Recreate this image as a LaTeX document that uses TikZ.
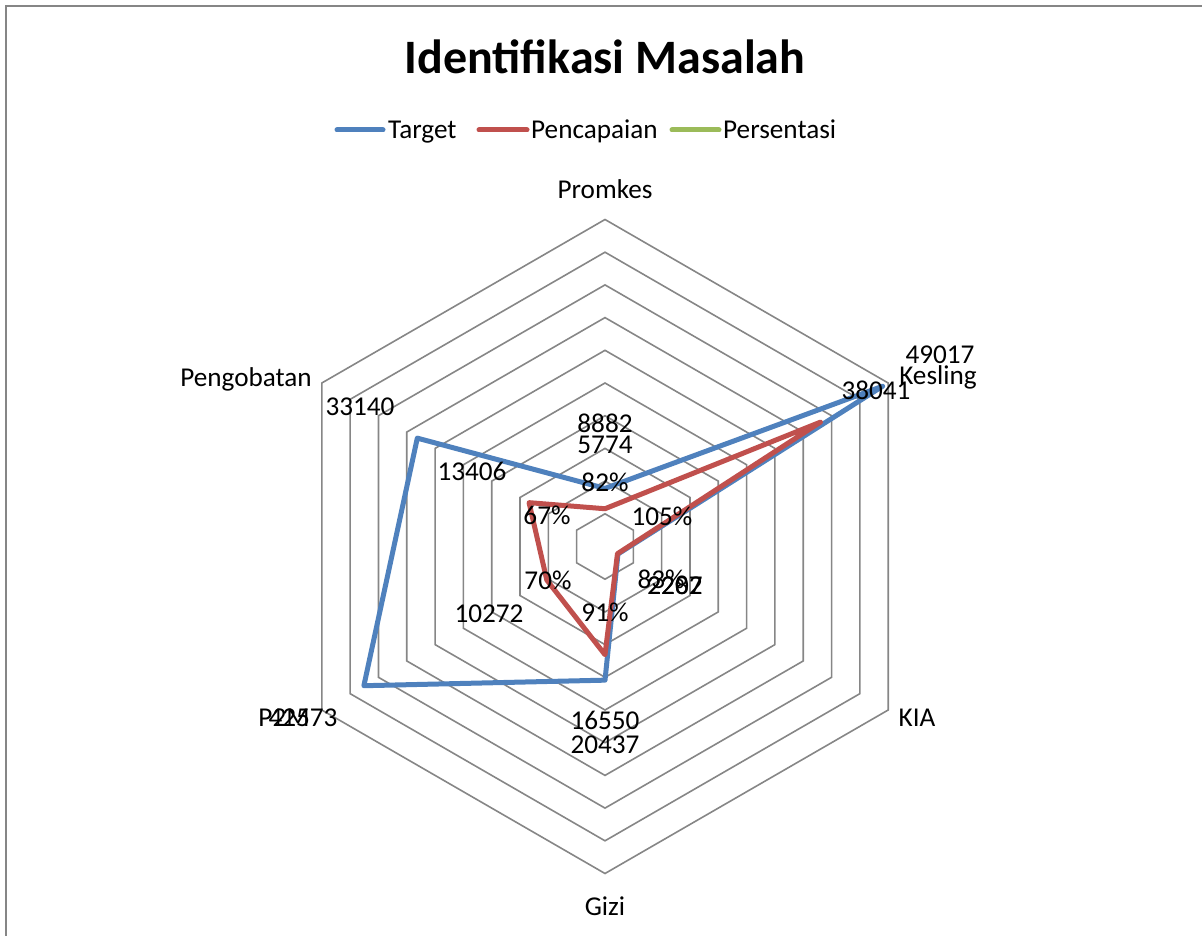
\documentclass[tikz,border=0pt]{standalone}
\usepackage{fontspec}
\setmainfont{Carlito}
\definecolor{tblue}{HTML}{4F81BD}
\definecolor{pred}{HTML}{C0504D}
\definecolor{pgreen}{HTML}{9BBB59}
\definecolor{gridgray}{HTML}{868686}
\begin{document}
\begin{tikzpicture}[x=1pt,y=-1pt,
  lbl/.style={font=\fontsize{27.2}{32}\selectfont, inner sep=0pt, text height=17.2pt, text depth=0pt, text=black},
  ttl/.style={font=\bfseries\fontsize{48}{58}\selectfont, inner sep=0pt, text height=31pt, text depth=0pt},
  ring/.style={draw=gridgray, line width=1.6pt, line join=miter},
  frameline/.style={draw=gridgray, line width=2.2pt},
  serie/.style={line width=5pt, line join=round, line cap=round},
  legline/.style={line width=5pt, line cap=round}]
\useasboundingbox (0,0) rectangle (1202,936);
\draw[frameline] (6,940) -- (6,6) -- (1206,6);
% title
\node[ttl] (title) at (605,58) {Identifikasi Masalah};
% legend
\coordinate (la1) at (337,130); \coordinate (la2) at (383,130);
\coordinate (lb1) at (479,130); \coordinate (lb2) at (527,130);
\coordinate (lc1) at (672,130); \coordinate (lc2) at (719,130);
\draw[legline, tblue] (la1) -- (la2);
\draw[legline, pred] (lb1) -- (lb2);
\draw[legline, pgreen] (lc1) -- (lc2);
\node[lbl, anchor=west] (legT) at (388,130) {Target};
\node[lbl, anchor=west] (legP) at (531,130) {Pencapaian};
\node[lbl, anchor=west] (legS) at (723,130) {Persentasi};
% radar
\begin{scope}[shift={(605,546.5)}]
  \foreach \k [evaluate=\k as \r using \k*32.7] in {1,...,10}
    \draw[ring] (-90:\r) -- (-30:\r) -- (30:\r) -- (90:\r) -- (150:\r) -- (210:\r) -- cycle;
  % target
  \coordinate (t1) at (-90:58.09);
  \coordinate (t2) at (-30:320.57);
  \coordinate (t3) at (30:14.96);
  \coordinate (t4) at (90:133.66);
  \coordinate (t5) at (150:278.43);
  \coordinate (t6) at (210:216.74);
  % pencapaian
  \coordinate (p1) at (-90:37.76);
  \coordinate (p2) at (-30:248.79);
  \coordinate (p3) at (30:14.40);
  \coordinate (p4) at (90:108.24);
  \coordinate (p5) at (150:67.18);
  \coordinate (p6) at (210:87.68);
  \draw[serie, tblue] (t1) -- (t2) -- (t3) -- (t4) -- (t5) -- (t6) -- cycle;
  \draw[serie, pred] (p1) -- (p2) -- (p3) -- (p4) -- (p5) -- (p6) -- cycle;
\end{scope}
% category labels
\node[lbl] (cPromkes) at (605,190) {Promkes};
\node[lbl] (cKesling) at (938,376) {Kesling};
\node[lbl] (cKIA) at (917,718) {KIA};
\node[lbl] (cGizi) at (605,907) {Gizi};
\node[lbl] (cP2M) at (284,718) {P2M};
\node[lbl] (cPeng) at (246,378) {Pengobatan};
% data labels target
\node[lbl] (dt1) at (605,424) {8882};
\node[lbl] (dt2) at (940,355) {49017};
\node[lbl] (dt3) at (675,586) {2287};
\node[lbl] (dt4) at (605,745) {20437};
\node[lbl] (dt5) at (303,718) {42573};
\node[lbl] (dt6) at (360,407) {33140};
% data labels pencapaian
\node[lbl] (dp1) at (605,445) {5774};
\node[lbl] (dp2) at (876,391) {38041};
\node[lbl] (dp3) at (675,586) {2202};
\node[lbl] (dp4) at (605,721) {16550};
\node[lbl] (dp5) at (489,614) {10272};
\node[lbl] (dp6) at (472,472) {13406};
% data labels persentasi
\node[lbl] (ds1) at (605,483) {82\%};
\node[lbl] (ds2) at (662,517) {105\%};
\node[lbl] (ds3) at (661,580) {83\%};
\node[lbl] (ds4) at (605,613) {91\%};
\node[lbl] (ds5) at (548,581) {70\%};
\node[lbl] (ds6) at (547,516) {67\%};
\end{tikzpicture}
\end{document}
